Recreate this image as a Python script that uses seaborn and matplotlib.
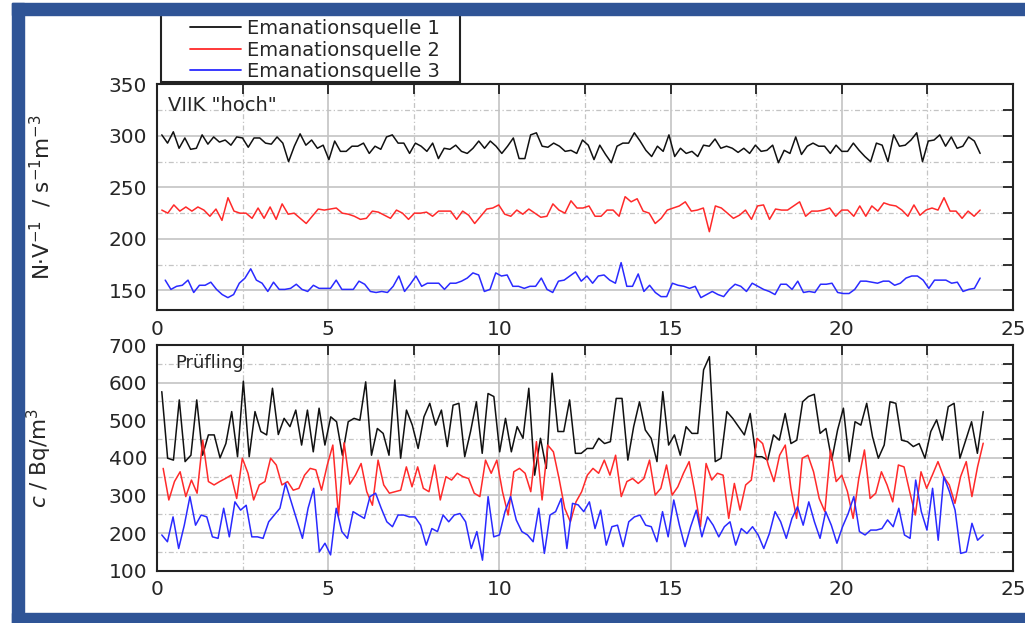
import numpy as np
import pandas as pd
import seaborn as sns
import matplotlib.pyplot as plt
from matplotlib.patches import Rectangle
from matplotlib.ticker import MultipleLocator

# --- data (time in h, values in order of time) ---
sources = ["Emanationsquelle 1", "Emanationsquelle 2", "Emanationsquelle 3"]
colors = ["#111111", "#ff2a2a", "#2a2aff"]

# upper panel: VIIK "hoch"  (N.V^-1 / s^-1 m^-3)
viik_q1 = [301, 293, 304, 288, 298, 287, 288, 301, 292, 299, 294, 296, 291, 299, 298, 289, 298, 298,
           293, 292, 299, 293, 275, 290, 302, 291, 296, 288, 291, 277, 295, 285, 285, 290, 290, 293,
           283, 290, 287, 299, 301, 293, 293, 283, 293, 290, 285, 293, 278, 288, 287, 291, 285, 283,
           288, 295, 288, 295, 290, 283, 290, 298, 278, 278, 301, 303, 290, 289, 293, 290, 285, 286,
           283, 296, 291, 277, 291, 282, 274, 290, 293, 293, 303, 295, 286, 280, 290, 285, 301, 280,
           288, 283, 285, 280, 291, 290, 297, 288, 290, 288, 284, 288, 283, 291, 285, 286, 291, 274,
           286, 283, 299, 282, 290, 293, 290, 290, 283, 291, 285, 285, 293, 286, 280, 275, 293, 291,
           275, 301, 290, 291, 296, 303, 275, 295, 296, 301, 290, 299, 288, 290, 299, 295, 283]
viik_q2 = [228, 225, 233, 227, 231, 227, 231, 228, 222, 229, 218, 240, 227, 225, 225, 220, 230, 220,
           231, 219, 234, 224, 225, 220, 215, 222, 229, 228, 229, 230, 225, 224, 222, 219, 220, 227,
           226, 223, 220, 228, 225, 219, 225, 225, 226, 222, 227, 227, 227, 219, 227, 223, 215, 222,
           229, 230, 233, 224, 222, 228, 224, 229, 225, 221, 222, 234, 228, 225, 237, 230, 230,
           232, 222, 222, 228, 228, 222, 241, 236, 239, 227, 225, 215, 220, 228, 230, 232, 236, 227,
           228, 230, 207, 232, 230, 225, 220, 223, 228, 219, 232, 233, 219, 229, 228, 228, 232, 236,
           222, 227, 227, 228, 230, 222, 228, 228, 222, 232, 222, 232, 227, 235, 233, 232, 228, 222,
           233, 223, 228, 230, 228, 240, 227, 227, 220, 227, 222, 228]
viik_q3 = [160, 151, 154, 155, 160, 148, 155, 155, 158, 151, 146, 143, 146, 157, 162, 171, 160, 157,
           149, 158, 151, 151, 152, 156, 151, 149, 155, 152, 152, 152, 160, 151, 151, 151, 159, 156,
           149, 148, 149, 148, 154, 164, 149, 156, 164, 154, 157, 157, 157, 151, 157, 157, 159, 162,
           167, 165, 149, 151, 167, 164, 165, 154, 154, 152, 154, 154, 162, 151, 148, 159, 160, 164, 168,
           159, 164, 157, 164, 165, 160, 157, 177, 154, 154, 166, 149, 155, 148, 144, 144, 157, 155,
           154, 152, 154, 143, 146, 149, 146, 144, 151, 156, 154, 149, 157, 154, 151, 149, 146, 156,
           156, 151, 159, 148, 149, 148, 156, 156, 157, 148, 147, 147, 151, 159, 159, 158, 157, 159,
           159, 155, 157, 162, 164, 164, 160, 152, 160, 160, 160, 157, 158, 149, 151, 152, 162]

# lower panel: Pruefling  (c / Bq/m^3)
pruef_q1 = [576, 399, 394, 554, 390, 407, 554, 407, 461, 461, 400, 438, 523, 403, 604, 403, 523, 470,
            461, 585, 462, 505, 483, 527, 434, 527, 416, 532, 434, 509, 496, 407, 496,
            505, 500, 602, 407, 478, 465, 407, 607, 399, 527, 487, 425, 509, 545, 487, 527, 430, 540,
            545, 403, 470, 549, 412, 571, 563, 416, 505, 416, 483, 452, 585, 354, 452, 372, 625, 470, 470,
            554, 412, 412, 425, 425, 452, 438, 443, 558, 558, 394, 483, 549, 474, 452, 390, 576, 434,
            461, 407, 483, 465, 465, 634, 669, 390, 399, 523, 505, 483, 461, 518, 403, 403, 394, 461,
            447, 518,
            438, 447, 549, 563, 569, 465, 478, 394, 474, 532, 390, 496, 487, 545, 456, 399, 434, 549,
            545, 447, 443, 430, 438, 399, 470, 501, 447, 536, 545, 399, 447, 496, 412, 523]
pruef_q2 = [372, 288, 337, 363, 297, 341, 306, 447, 337, 328, 337, 345, 354, 292, 399, 359, 288, 328,
            337, 399, 381, 328, 337, 314, 319, 354, 372, 368, 314, 380, 434, 245, 440, 330,
            354, 385, 310, 274, 394, 328, 306, 310, 314, 376, 323, 376, 319, 310, 381, 288, 350, 341,
            359, 350, 345, 306, 297, 394, 359, 394, 310, 248, 363, 372, 359, 310, 443, 288, 434, 416,
            345, 266, 230,
            283, 310, 354, 372, 359, 394, 354, 407, 297, 337, 345, 332, 345, 394, 301, 319, 381, 301,
            323, 359, 390, 310, 217, 385, 341, 359, 354, 239, 332, 261, 328, 341, 452, 438, 381, 337,
            407, 434, 319,
            239, 399, 407, 363, 292, 257, 421, 337, 354, 310, 239, 345, 421, 292, 306, 363, 328, 283,
            381, 376, 310, 248, 363, 319, 354, 390, 350, 328, 279, 350, 390, 297, 376, 439]
pruef_q3 = [195, 177, 243, 159, 221, 297, 221, 248, 243, 190, 186, 266, 190, 283, 261, 274, 190, 190,
            186, 230, 248, 266, 332, 283, 235, 186, 266, 319, 150, 173, 142, 266, 204, 186, 257, 248,
            239, 297, 306, 266, 230, 217, 248, 248, 243, 243, 221, 168, 212, 204, 248, 230, 248, 252,
            230, 159, 204, 128, 297, 190, 195, 257, 297, 235, 204, 195, 177, 266, 146, 248, 257, 292,
            159, 279,
            275, 257, 283, 212, 261, 168, 217, 221, 164, 230, 243, 248, 221, 217, 177, 257, 190, 288,
            221, 164, 217, 261, 190, 243, 221, 190, 217, 230, 168, 212, 199, 217, 195, 159, 199, 257,
            230, 186, 239,
            270, 221, 283, 230, 186, 257, 221, 173, 217, 252, 297, 204, 195, 208, 208, 212, 235, 217,
            266, 195, 186, 341, 257, 208, 319, 181, 350, 310, 261, 146, 150, 226, 181, 195]

# first and last sampling time of each series (h)
viik_start = [0.14, 0.14, 0.24]
viik_end = [24.04, 24.04, 24.04]
pruef_start = [0.14, 0.18, 0.14]
pruef_end = [24.13, 24.13, 24.13]


def to_frame(series, starts, ends):
    parts = []
    for name, vals, t0, t1 in zip(sources, series, starts, ends):
        t = np.linspace(t0, t1, len(vals))
        parts.append(pd.DataFrame({"t": t, "v": vals, "Quelle": name}))
    return pd.concat(parts, ignore_index=True)


df_viik = to_frame([viik_q1, viik_q2, viik_q3], viik_start, viik_end)
df_pruef = to_frame([pruef_q1, pruef_q2, pruef_q3], pruef_start, pruef_end)

sns.set_theme(style="white")
plt.rcParams["font.family"] = ["DejaVu Sans"]
plt.rcParams["mathtext.fontset"] = "dejavusans"

W, H = 1025, 623
fig = plt.figure(figsize=(W / 100, H / 100), dpi=100)
fig.patch.set_facecolor("white")

ax1 = fig.add_axes([157 / W, 1 - 310 / H, 856 / W, 225.6 / H])
ax2 = fig.add_axes([157 / W, 1 - 570.7 / H, 856 / W, 225.7 / H])

pal = dict(zip(sources, colors))
sns.lineplot(data=df_viik, x="t", y="v", hue="Quelle", palette=pal, ax=ax1,
             estimator=None, sort=False, lw=1.1, legend=True)
sns.lineplot(data=df_pruef, x="t", y="v", hue="Quelle", palette=pal, ax=ax2,
             estimator=None, sort=False, lw=1.1, legend=False)

for ax, (ylo, yhi), ymaj in [(ax1, (131, 350), 50), (ax2, (100, 700), 100)]:
    ax.set_xlim(0, 25)
    ax.set_ylim(ylo, yhi)
    ax.xaxis.set_major_locator(MultipleLocator(5))
    ax.xaxis.set_minor_locator(MultipleLocator(2.5))
    ax.yaxis.set_major_locator(MultipleLocator(ymaj))
    ax.yaxis.set_minor_locator(MultipleLocator(ymaj / 2))
    ax.set_axisbelow(True)
    ax.grid(which="major", color="#c4c4c4", lw=1.2, ls="-")
    ax.grid(which="minor", color="#c4c4c4", lw=0.9, ls=(0, (4, 2, 1, 2)))
    ax.tick_params(which="both", direction="in", top=True, right=True, length=7,
                   width=1.3, color="#222222", labelsize=14.5, pad=7)
    for sp in ax.spines.values():
        sp.set_color("#222222")
        sp.set_linewidth(1.5)
    ax.set_xlabel("")

ax1.set_ylabel(r"N·V$^{-1}$  / s$^{-1}$m$^{-3}$", fontsize=15.5)
ax2.set_ylabel(r"$c$ / Bq/m$^3$", fontsize=15.5)
ax1.yaxis.set_label_coords(-0.12, 0.5)
ax2.yaxis.set_label_coords(-0.12, 0.5)

ax1.text(0.013, 0.905, 'VIIK "hoch"', transform=ax1.transAxes, fontsize=14, va="center")
ax2.text(0.021, 0.92, "Prüfling", transform=ax2.transAxes, fontsize=13, va="center")

# legend above the upper panel
sns.move_legend(ax1, loc="center left", bbox_to_anchor=(190 / W, 1 - 50 / H),
                bbox_transform=fig.transFigure, frameon=False, title=None,
                fontsize=14, handlelength=2.6, handletextpad=0.35,
                labelspacing=0.12, borderpad=0, borderaxespad=0)
for line in ax1.get_legend().get_lines():
    line.set_linewidth(1.3)
fig.add_artist(Rectangle((161 / W, 1 - 82 / H), 299 / W, 72 / H, transform=fig.transFigure,
                         fill=False, ec="#222222", lw=1.5, zorder=5))

# dark blue slide frame
frame_col = "#2f5496"
fig.add_artist(Rectangle((12 / W, 0), 12 / W, 1 - 3 / H, transform=fig.transFigure,
                         color=frame_col, zorder=10))
fig.add_artist(Rectangle((12 / W, 1 - 15 / H), 1 - 12 / W, 12 / H, transform=fig.transFigure,
                         color=frame_col, zorder=10))
fig.add_artist(Rectangle((12 / W, 0), 1 - 12 / W, 10 / H, transform=fig.transFigure,
                         color=frame_col, zorder=10))

fig.savefig("out.png", dpi=100)
